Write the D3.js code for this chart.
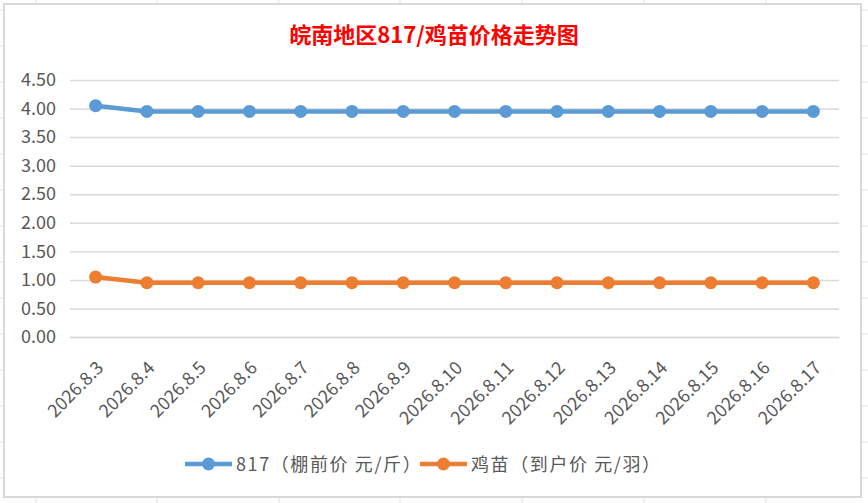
<!DOCTYPE html>
<html><head><meta charset="utf-8">
<script src="https://cdn.jsdelivr.net/npm/d3@7"></script>
<style>body{margin:0;background:#fff}svg{display:block}</style>
</head><body>
<svg id="c" width="868" height="503"></svg>
<script>
const categories = ["2026.8.3","2026.8.4","2026.8.5","2026.8.6","2026.8.7","2026.8.8","2026.8.9","2026.8.10","2026.8.11","2026.8.12","2026.8.13","2026.8.14","2026.8.15","2026.8.16","2026.8.17"];
const series817 = [4.05,3.95,3.95,3.95,3.95,3.95,3.95,3.95,3.95,3.95,3.95,3.95,3.95,3.95,3.95];
const seriesChick = [1.05,0.95,0.95,0.95,0.95,0.95,0.95,0.95,0.95,0.95,0.95,0.95,0.95,0.95,0.95];
const yTicks = [0,0.5,1,1.5,2,2.5,3,3.5,4,4.5];
const seriesNames = ["817（棚前价 元/斤）","鸡苗（到户价 元/羽）"];
const title = "皖南地区817/鸡苗价格走势图";
const colors = ["#5B9BD5","#ED7D31"];

const svg = d3.select("#c");
const font = "'Noto Sans CJK SC', 'Noto Sans', sans-serif";

// spreadsheet background grid
const sheet = svg.append("g");
const colX = [36,157,279,400,522,644,766];
const rowY = d3.range(10, 503, 36);
sheet.selectAll("line.v").data(colX).enter().append("line")
  .attr("x1",d=>d).attr("x2",d=>d).attr("y1",0).attr("y2",503).attr("stroke","#E1E1E1");
sheet.selectAll("line.h").data(rowY).enter().append("line")
  .attr("x1",0).attr("x2",868).attr("y1",d=>d).attr("y2",d=>d).attr("stroke","#E1E1E1");
svg.append("rect").attr("x",4).attr("y",4).attr("width",857).attr("height",493)
  .attr("fill","#fff").attr("stroke","#D9D9D9").attr("stroke-width",2);

const x = d3.scaleBand().domain(categories).range([70,839]);
const y = d3.scaleLinear().domain([0,4.5]).range([337,80]);
const cx = d => x(d) + x.bandwidth()/2;

// gridlines
const yAxis = d3.axisLeft(y).tickValues(yTicks).tickFormat(d3.format(".2f")).tickSize(-(839-70)).tickPadding(14);
const ga = svg.append("g").attr("transform","translate(70,0)").call(yAxis);
ga.select(".domain").remove();
ga.selectAll(".tick line").attr("stroke","#D9D9D9").attr("stroke-width",1.5);
ga.selectAll(".tick text").attr("fill","#595959").style("font-family",font).style("font-size","18px");

// x axis labels
const xAxis = d3.axisBottom(x).tickSize(0).tickPadding(0);
const gx = svg.append("g").attr("transform","translate(0,337)").call(xAxis);
gx.select(".domain").attr("stroke","#D9D9D9").attr("stroke-width",1.5);
gx.selectAll(".tick text")
  .attr("fill","#595959").style("font-family",font).style("font-size","18px")
  .attr("text-anchor","end").attr("y",0).attr("dy","0")
  .attr("transform","translate(9,32) rotate(-45)");

// lines
const line = d3.line().x((d,i)=>cx(categories[i])).y(d=>y(d));
[series817, seriesChick].forEach((s,k)=>{
  svg.append("path").datum(s).attr("d",line).attr("fill","none")
    .attr("stroke",colors[k]).attr("stroke-width",4.5).attr("stroke-linejoin","round");
  svg.selectAll(null).data(s).enter().append("circle")
    .attr("cx",(d,i)=>cx(categories[i])).attr("cy",d=>y(d)).attr("r",6.5).attr("fill",colors[k]);
});

// title
svg.append("text").attr("x",434).attr("y",43).attr("text-anchor","middle")
  .attr("fill","#FF0000").style("font-family",font).style("font-size","22px").style("font-weight","bold")
  .text(title);

// legend
const legX = [185, 420];
seriesNames.forEach((n,k)=>{
  const g = svg.append("g").attr("transform",`translate(${legX[k]},464)`);
  g.append("line").attr("x1",0).attr("x2",47).attr("stroke",colors[k]).attr("stroke-width",4.5);
  g.append("circle").attr("cx",23.5).attr("r",6.5).attr("fill",colors[k]);
  g.append("text").attr("x",51).attr("y",7).attr("fill","#595959")
    .style("font-family",font).style("font-size","18px").style("letter-spacing","1.6px").text(n);
});
</script>
</body></html>
